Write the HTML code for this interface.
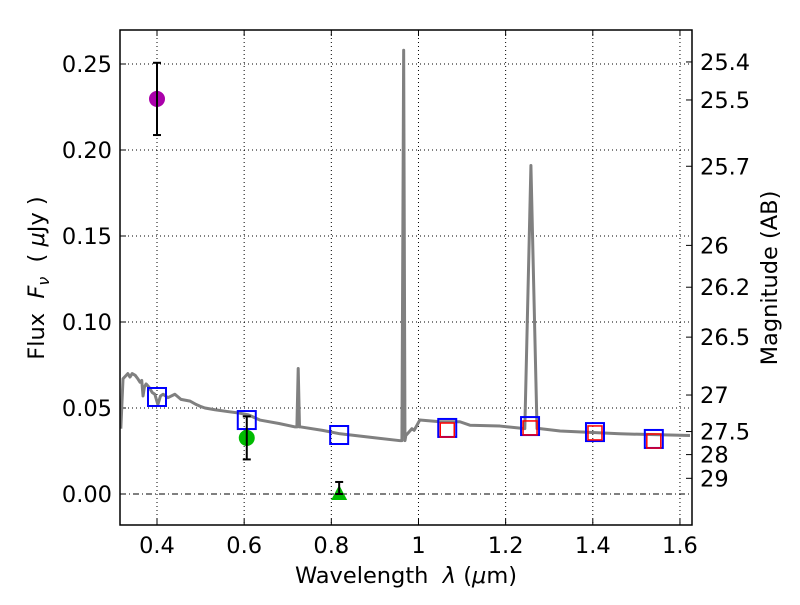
<!DOCTYPE html>
<html><head><meta charset="utf-8"><style>
body{margin:0;background:#fff}
svg{font-family:"DejaVu Sans","Liberation Sans",sans-serif}
</style></head><body>
<svg id="c" width="800" height="600"></svg>
<script>
const specW=[0.317,0.322,0.333,0.338,0.343,0.35,0.356,0.361,0.365,0.368,0.371,0.375,0.382,0.389,0.395,0.402,0.408,0.414,0.425,0.441,0.455,0.476,0.49,0.499,0.51,0.533,0.56,0.59,0.61,0.636,0.68,0.717,0.721,0.724,0.727,0.73,0.78,0.82,0.889,0.958,0.962,0.966,0.969,0.971,0.978,0.985,0.99,1.003,1.05,1.095,1.118,1.187,1.244,1.258,1.272,1.279,1.325,1.462,1.623];
const specF=[0.038,0.067,0.070,0.068,0.070,0.069,0.067,0.065,0.066,0.057,0.062,0.064,0.062,0.059,0.058,0.052,0.057,0.058,0.056,0.058,0.055,0.054,0.052,0.051,0.050,0.049,0.048,0.047,0.046,0.043,0.041,0.039,0.039,0.073,0.039,0.039,0.037,0.035,0.033,0.031,0.031,0.258,0.031,0.034,0.036,0.038,0.037,0.043,0.042,0.042,0.040,0.0395,0.038,0.191,0.038,0.038,0.0366,0.035,0.034];
const obsW=[0.4,0.606];
const obsF=[0.2297,0.0326];
const obsErr=[0.021,0.0125];
const obsColors=['#aa00aa','#00bb00'];
const limW=[0.818];
const limF=[0.0];
const limErr=[0.007];
const modelW=[0.4,0.606,0.818,1.066,1.256,1.405,1.54];
const modelF=[0.0564,0.043,0.0343,0.0384,0.0395,0.036,0.032];
const model2W=[1.066,1.256,1.405,1.54];
const model2F=[0.0372,0.0384,0.0355,0.0308];
const xTicks=[0.4,0.6,0.8,1.0,1.2,1.4,1.6];
const xTickLabels=['0.4','0.6','0.8','1','1.2','1.4','1.6'];
const yTicks=[0,0.05,0.1,0.15,0.2,0.25];
const yTickLabels=['0.00','0.05','0.10','0.15','0.20','0.25'];
const magTicks=[25.4,25.5,25.7,26,26.2,26.5,27,27.5,28,29];

const L=120,R=692,T=30,B=525;
const X=w=>157+(w-0.4)*435.8;
const Y=f=>494-f*1720;
const NS='http://www.w3.org/2000/svg';
const svg=document.getElementById('c');
function mk(t,a,p){const e=document.createElementNS(NS,t);for(const k in a)e.setAttribute(k,a[k]);(p||svg).appendChild(e);return e;}

xTicks.forEach((v,i)=>{
 const g=mk('line',{x1:X(v),x2:X(v),y1:T,y2:B,stroke:'#000','stroke-width':1,'stroke-dasharray':'1,3'});
 
 mk('line',{x1:X(v),x2:X(v),y1:B,y2:B-6,stroke:'#000'});
 mk('line',{x1:X(v),x2:X(v),y1:T,y2:T+6,stroke:'#000'});
 const t=mk('text',{x:X(v),y:B+28,'font-size':22.5,'text-anchor':'middle'});t.textContent=xTickLabels[i];
 
});
yTicks.forEach((v,i)=>{
 const g=mk('line',{x1:L,x2:R,y1:Y(v),y2:Y(v),stroke:'#000','stroke-width':1,'stroke-dasharray':v===0?'6,3,1,3':'1,3'});
 
 mk('line',{x1:L,x2:L+6,y1:Y(v),y2:Y(v),stroke:'#000'});
 const t=mk('text',{x:L-8,y:Y(v)+8,'font-size':22.5,'text-anchor':'end'});t.textContent=yTickLabels[i];
 
});
magTicks.forEach(m=>{
 const y=Y(Math.pow(10,(23.9-m)/2.5));
 mk('line',{x1:R,x2:R-6,y1:y,y2:y,stroke:'#000'});
 const t=mk('text',{x:R+8,y:y+8,'font-size':22.5});t.textContent=String(m);
 
});

const cp=mk('clipPath',{id:'pc'});mk('rect',{x:L,y:T,width:R-L,height:B-T},cp);
const g=mk('g',{'clip-path':'url(#pc)'});
const sp=mk('polyline',{points:specW.map((w,i)=>X(w)+','+Y(specF[i])).join(' '),fill:'none',stroke:'#808080','stroke-width':3,'stroke-linejoin':'round'},g);


modelW.forEach((w,i)=>{
 const r=mk('rect',{x:X(w)-9,y:Y(modelF[i])-9,width:18,height:18,fill:'none',stroke:'#0000ff','stroke-width':2},g);
 
});
model2W.forEach((w,i)=>{
 const r=mk('rect',{x:X(w)-7,y:Y(model2F[i])-7,width:14,height:14,fill:'none',stroke:'#ff0000','stroke-width':1.5},g);
 
});
function err(x,y1,y2){
 mk('line',{x1:x,x2:x,y1:y1,y2:y2,stroke:'#000','stroke-width':2},g);
 mk('line',{x1:x-4,x2:x+4,y1:y1,y2:y1,stroke:'#000','stroke-width':2},g);
 mk('line',{x1:x-4,x2:x+4,y1:y2,y2:y2,stroke:'#000','stroke-width':2},g);
}
obsW.forEach((w,i)=>{
 const c=mk('circle',{cx:X(w),cy:Y(obsF[i]),r:8,fill:obsColors[i]},g);
 
 err(X(w),Y(obsF[i]+obsErr[i]),Y(obsF[i]-obsErr[i]));
});
limW.forEach((w,i)=>{
 const x=X(w),y=Y(limF[i]);
 const p=mk('polygon',{points:`${x},${y-9} ${x-8},${y+6} ${x+8},${y+6}`,fill:'#00bb00'},g);
 
 err(x,Y(limF[i]+limErr[i]),y);
});

const fr=mk('rect',{x:L,y:T,width:R-L,height:B-T,fill:'none',stroke:'#000','stroke-width':1.5});

</script>
<svg style="position:absolute;left:0;top:0" width="800" height="600" font-family="DejaVu Sans,Liberation Sans,sans-serif">
<text x="406" y="583" font-size="22.5" text-anchor="middle">Wavelength&#160;&#160;<tspan font-style="italic">λ</tspan> (<tspan font-style="italic">μ</tspan>m)</text>
<text transform="translate(44,278) rotate(-90)" font-size="22.5" text-anchor="middle">Flux&#160;&#160;<tspan font-style="italic">F</tspan><tspan font-style="italic" font-size="16" dy="5">ν</tspan><tspan dy="-5">&#160;&#160;( </tspan><tspan font-style="italic">μ</tspan>Jy )</text>
<text transform="translate(777,278) rotate(-90)" font-size="22.5" text-anchor="middle">Magnitude (AB)</text>
</svg>
</body></html>
